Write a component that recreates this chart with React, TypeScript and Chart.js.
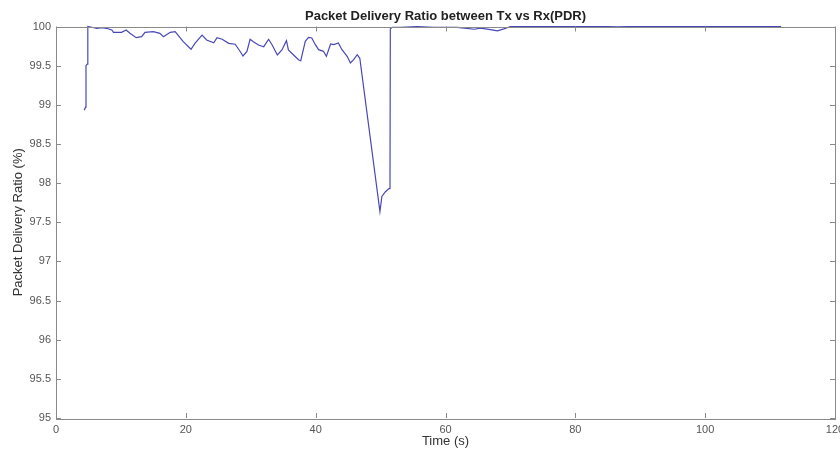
import React, { useEffect, useRef } from "react";
import { Chart, registerables } from "chart.js";

Chart.register(...registerables);

const timeS: number[] = [
  4.35, 4.55, 4.62, 4.82, 4.9, 5.5, 6.3, 7.05, 7.8, 8.6, 8.85, 10.1, 10.8, 11.4, 12.35, 13.2, 13.7,
  15.0, 16.0, 16.55, 17.6, 18.35, 18.7, 19.6, 20.8, 21.4, 22.5, 23.2, 24.3, 24.8, 25.6, 26.6, 27.6,
  28.4, 28.8, 29.4, 29.9, 30.4, 31.2, 32.0, 32.75, 33.3, 34.1, 34.8, 35.5, 35.8, 36.6, 37.4, 37.7,
  38.4, 38.9, 39.4, 39.95, 40.45, 41.2, 41.65, 42.3, 42.8, 43.5, 44.05, 44.85, 45.35, 45.85, 46.4,
  46.8, 49.9, 50.2, 50.75, 51.3, 51.45, 51.5, 51.8, 53.1, 55.6, 58.2, 60.3, 61.8, 63.3, 64.4, 65.4,
  66.9, 68.0, 69.0, 70.0, 85.0, 86.5, 88.0, 111.7,
];

const pdrPercent: number[] = [
  98.93, 98.97, 99.5, 99.52, 100.0, 99.99, 99.977, 99.985, 99.977, 99.955, 99.926, 99.926, 99.955,
  99.913, 99.857, 99.87, 99.926, 99.934, 99.913, 99.87, 99.926, 99.934, 99.9, 99.806, 99.709,
  99.785, 99.89, 99.828, 99.793, 99.857, 99.837, 99.785, 99.773, 99.678, 99.623, 99.678, 99.837,
  99.806, 99.764, 99.742, 99.837, 99.764, 99.636, 99.7, 99.819, 99.7, 99.636, 99.572, 99.563,
  99.811, 99.862, 99.853, 99.768, 99.704, 99.683, 99.619, 99.777, 99.768, 99.789, 99.704, 99.619,
  99.534, 99.576, 99.64, 99.594, 97.635, 97.83, 97.89, 97.93, 98.0, 99.97, 99.99, 99.99, 100.0,
  99.99, 99.99, 99.99, 99.975, 99.965, 99.98, 99.96, 99.945, 99.97, 100.0, 100.0, 99.995, 100.0,
  100.0,
];

const xTicks: number[] = [0, 20, 40, 60, 80, 100, 120];
const yTicks: number[] = [95, 95.5, 96, 96.5, 97, 97.5, 98, 98.5, 99, 99.5, 100];

const titleText = "Packet Delivery Ratio between Tx vs Rx(PDR)";
const xTitle = "Time (s)";
const yTitle = "Packet Delivery Ratio (%)";

const FONT = "Liberation Sans, Arial, sans-serif";

const boxPlugin = {
  id: "matlabBox",
  afterDraw(chart: any) {
    const { ctx, chartArea } = chart;
    const { left, right, top, bottom } = chartArea;
    const xs = chart.scales.x;
    const ys = chart.scales.y;
    const tl = 5;
    ctx.save();
    ctx.strokeStyle = "#8a8a8a";
    ctx.lineWidth = 1;
    ctx.beginPath();
    xTicks.forEach((v) => {
      const px = Math.round(xs.getPixelForValue(v)) + 0.5;
      ctx.moveTo(px, bottom);
      ctx.lineTo(px, bottom - tl);
      ctx.moveTo(px, top);
      ctx.lineTo(px, top + tl);
    });
    yTicks.forEach((v) => {
      const py = Math.round(ys.getPixelForValue(v)) + 0.5;
      ctx.moveTo(left, py);
      ctx.lineTo(left + tl, py);
      ctx.moveTo(right, py);
      ctx.lineTo(right - tl, py);
    });
    ctx.stroke();
    ctx.strokeRect(Math.round(left) + 0.5, Math.round(top) + 0.5, Math.round(right - left), Math.round(bottom - top));
    ctx.restore();
  },
};

export default function App() {
  const canvasRef = useRef<HTMLCanvasElement | null>(null);

  useEffect(() => {
    document.body.style.margin = "0";
    const canvas = canvasRef.current;
    if (!canvas) return;
    const data = timeS.map((t, i) => ({ x: t, y: pdrPercent[i] }));
    const chart = new Chart(canvas, {
      type: "line",
      data: {
        datasets: [
          {
            data,
            borderColor: "#4848b8",
            borderWidth: 1.2,
            pointRadius: 0,
            tension: 0,
            fill: false,
            clip: false as any,
          },
        ],
      },
      options: {
        animation: false,
        responsive: false,
        maintainAspectRatio: false,
        layout: { padding: { left: 0, right: 5, top: 0, bottom: 0 } },
        plugins: {
          legend: { display: false },
          tooltip: { enabled: false },
          title: {
            display: true,
            fullSize: false,
            text: titleText,
            color: "#222",
            font: { family: FONT, size: 13, weight: "bold", lineHeight: 1 },
            padding: { top: 10, bottom: 3.5 },
          },
        },
        scales: {
          x: {
            type: "linear",
            min: 0,
            max: 120,
            afterBuildTicks: (s: any) => {
              s.ticks = xTicks.map((v) => ({ value: v }));
            },
            afterFit: (s: any) => {
              s.height = 32;
              s.paddingLeft = 0;
              s.paddingRight = 0;
            },
            grid: { display: false, drawTicks: false },
            border: { display: false },
            ticks: {
              color: "#555",
              padding: 5,
              maxRotation: 0,
              font: { family: FONT, size: 11 },
            },
            title: {
              display: true,
              text: xTitle,
              color: "#333",
              padding: { top: 0, bottom: 1 },
              font: { family: FONT, size: 13 },
            },
          },
          y: {
            type: "linear",
            min: 95,
            max: 100,
            afterBuildTicks: (s: any) => {
              s.ticks = yTicks.map((v) => ({ value: v }));
            },
            afterFit: (s: any) => {
              s.width = 56;
              s.paddingTop = 0;
              s.paddingBottom = 0;
            },
            grid: { display: false, drawTicks: false },
            border: { display: false },
            ticks: {
              color: "#555",
              padding: 5,
              font: { family: FONT, size: 11 },
              callback: (v: any) => String(Number(v)),
            },
            title: {
              display: true,
              text: yTitle,
              color: "#333",
              padding: { top: 11, bottom: 0 },
              font: { family: FONT, size: 13 },
            },
          },
        },
      },
      plugins: [boxPlugin],
    });
    return () => chart.destroy();
  }, []);

  return (
    <div style={{ width: 840, height: 450 }}>
      <canvas ref={canvasRef} width={840} height={450} style={{ display: "block" }} />
    </div>
  );
}
